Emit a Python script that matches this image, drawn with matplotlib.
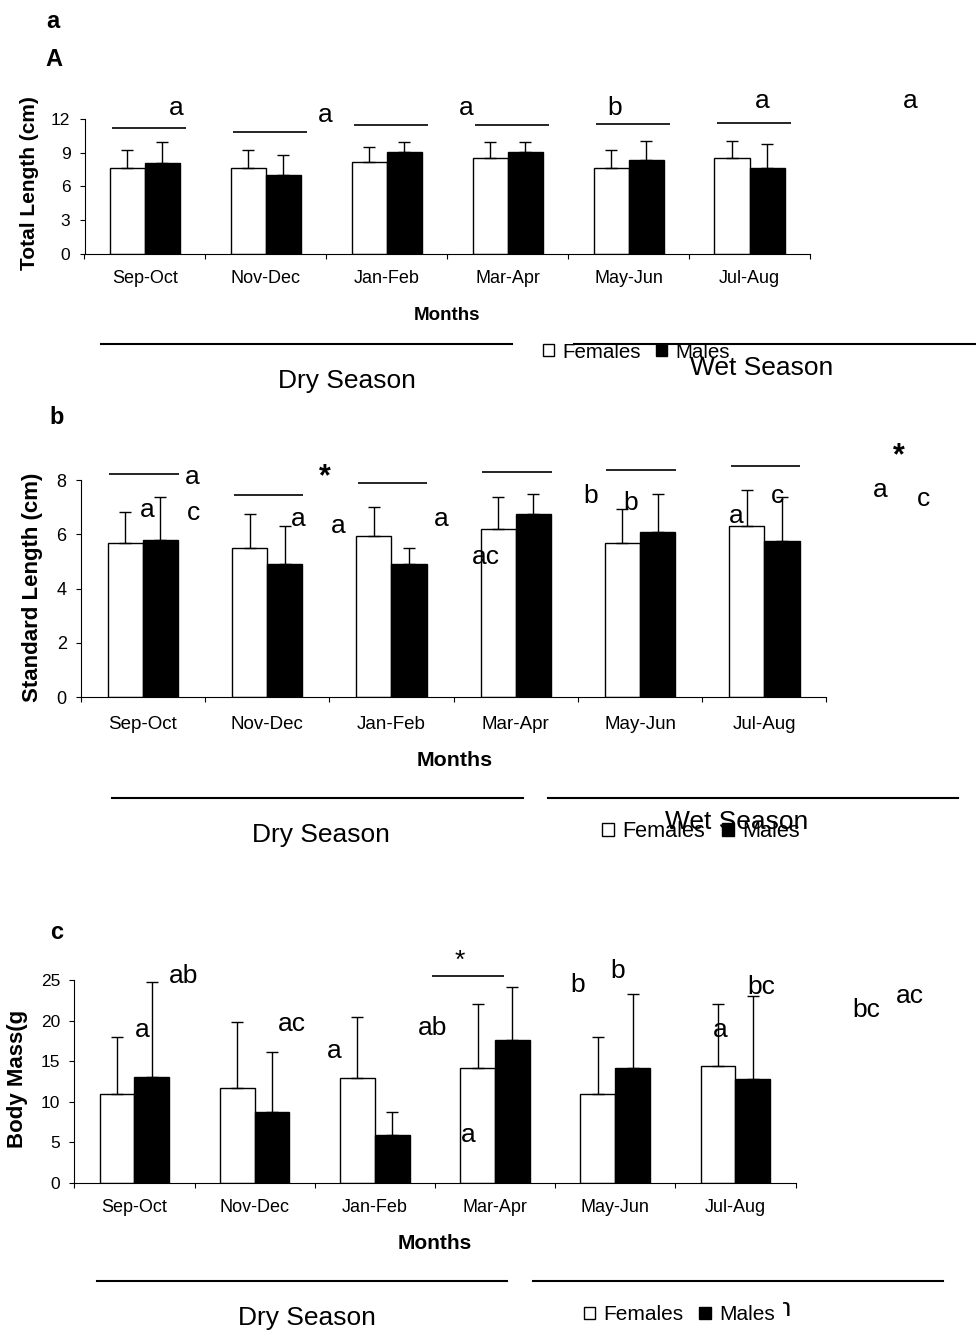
import matplotlib
matplotlib.use('Agg')
import numpy as np
import matplotlib.pyplot as plt
from matplotlib.lines import Line2D

plt.rcParams['font.family'] = ['Liberation Sans', 'DejaVu Sans']

W, H = 976, 1332
fig = plt.figure(figsize=(W / 100, H / 100), dpi=100)


def fx(x):
    return x / W


def fy(y):
    return 1 - y / H


months = ['Sep-Oct', 'Nov-Dec', 'Jan-Feb', 'Mar-Apr', 'May-Jun', 'Jul-Aug']

# A - total length (cm), mean and upper SD
tl_fem = [7.62, 7.62, 8.21, 8.52, 7.62, 8.52]
tl_fem_sd = [1.61, 1.61, 1.32, 1.45, 1.61, 1.57]
tl_mal = [8.07, 7.03, 9.11, 9.11, 8.37, 7.65]
tl_mal_sd = [1.90, 1.75, 0.86, 0.86, 1.72, 2.17]
tl_bracket = [11.2, 10.86, 11.46, 11.46, 11.6, 11.7]

# b - standard length (cm)
sl_fem = [5.68, 5.49, 5.94, 6.19, 5.68, 6.30]
sl_fem_sd = [1.14, 1.26, 1.05, 1.17, 1.25, 1.32]
sl_mal = [5.78, 4.89, 4.89, 6.75, 6.07, 5.75]
sl_mal_sd = [1.58, 1.40, 0.60, 0.74, 1.42, 1.61]
sl_bracket = [8.22, 7.45, 7.88, 8.30, 8.38, 8.50]

# c - body mass (g)
bm_fem = [10.9, 11.72, 12.95, 14.15, 10.9, 14.36]
bm_fem_sd = [7.03, 8.06, 7.45, 7.89, 7.07, 7.68]
bm_mal = [13.0, 8.72, 5.88, 17.64, 14.15, 12.75]
bm_mal_sd = [11.8, 7.36, 2.80, 6.54, 9.12, 10.28]


def panel(box, fem, fem_sd, mal, mal_sd, ymax, ystep, width, ytick_fs, xpad, xtick_fs):
    left, top, right, bottom = box
    ax = fig.add_axes([fx(left), fy(bottom), (right - left) / W, (bottom - top) / H])
    x = np.arange(len(months))
    zero = np.zeros(len(months))
    bf = ax.bar(x - width / 2, fem, width, color='white', edgecolor='black', linewidth=1, label='Females', zorder=2)
    bm = ax.bar(x + width / 2, mal, width, color='black', edgecolor='black', linewidth=1, label='Males', zorder=2)
    ax.errorbar(x - width / 2, fem, yerr=[zero, fem_sd], fmt='none', ecolor='black',
                elinewidth=1, capsize=4.5, capthick=1, zorder=3, clip_on=False)
    ax.errorbar(x + width / 2, mal, yerr=[zero, mal_sd], fmt='none', ecolor='black',
                elinewidth=1, capsize=4.5, capthick=1, zorder=3, clip_on=False)
    ax.set_xlim(-0.5, len(months) - 0.5)
    ax.set_ylim(0, ymax)
    ax.set_yticks(np.arange(0, ymax + 0.1, ystep))
    ax.set_xticks(np.arange(-0.5, len(months), 1))
    ax.set_xticklabels([])
    ax.set_xticks(x, minor=True)
    ax.set_xticklabels(months, minor=True)
    ax.tick_params(axis='x', which='major', direction='out', length=3.6, width=0.8)
    ax.tick_params(axis='x', which='minor', length=0, pad=xpad, labelsize=xtick_fs)
    ax.tick_params(axis='y', direction='out', length=3.6, width=0.8, pad=6.5, labelsize=ytick_fs)
    for s in ['top', 'right']:
        ax.spines[s].set_visible(False)
    for s in ['left', 'bottom']:
        ax.spines[s].set_linewidth(0.8)
    return ax, bf, bm


def hline(x0, x1, y, lw=1.5):
    fig.add_artist(Line2D([fx(x0), fx(x1)], [fy(y), fy(y)], transform=fig.transFigure,
                          color='black', lw=lw))


def letters(items, fs=19, weight='normal'):
    for s, x, y in items:
        fig.text(fx(x), fy(y), s, ha='center', va='baseline', fontsize=fs, fontweight=weight)


def legend(handles, x0, yc, fs, frame=False):
    pad = 0.4 if frame else 0
    fig.legend(handles, ['Females', 'Males'], loc='center left',
               bbox_to_anchor=(fx(x0 - pad * fs * 100 / 72), fy(yc)), ncol=2, fontsize=fs,
               handlelength=0.55, handleheight=0.55, handletextpad=0.4, columnspacing=0.75,
               borderpad=pad, borderaxespad=0, frameon=frame, facecolor='white',
               edgecolor='none', framealpha=1, fancybox=False)


x = np.arange(len(months))

# ---------------- panel A ----------------
fig.text(fx(53), fy(22), 'a', ha='center', va='center', fontsize=17, fontweight='bold')
fig.text(fx(54), fy(59), 'A', ha='center', va='center', fontsize=17, fontweight='bold')
axA, bfA, bmA = panel((84.5, 119.3, 810, 253.7), tl_fem, tl_fem_sd, tl_mal, tl_mal_sd,
                      12, 3, 0.29, 12.5, 12.0, 13)
axA.hlines(tl_bracket, x - 0.27, x + 0.34, color='black', lw=1.2, clip_on=False)
fig.text(fx(30), fy(183), 'Total Length (cm)', rotation=90, ha='center', va='center',
         fontsize=15, fontweight='bold')
fig.text(fx(447), fy(315), 'Months', ha='center', va='center', fontsize=13.5, fontweight='bold')
letters([('a', 176, 115), ('a', 325, 121.7), ('a', 466.5, 115), ('b', 615, 115),
         ('a', 762, 108), ('a', 910, 108)])
hline(101, 512, 343.5)
hline(574, 976, 343.5)
legend([bfA, bmA], 542.6, 352, 14.8)
fig.text(fx(347), fy(381), 'Dry Season', ha='center', va='center', fontsize=19)
fig.text(fx(762), fy(368), 'Wet Season', ha='center', va='center', fontsize=19)

# ---------------- panel b ----------------
fig.text(fx(57), fy(417), 'b', ha='center', va='center', fontsize=17, fontweight='bold')
axB, bfB, bmB = panel((80.7, 480, 826.5, 697.3), sl_fem, sl_fem_sd, sl_mal, sl_mal_sd,
                      8, 2, 0.283, 13, 13.5, 13.5)
axB.hlines(sl_bracket, x - 0.27, x + 0.29, color='black', lw=1.2, clip_on=False)
fig.text(fx(33), fy(587), 'Standard Length (cm)', rotation=90, ha='center', va='center',
         fontsize=16, fontweight='bold')
fig.text(fx(454.5), fy(761), 'Months', ha='center', va='center', fontsize=15.4, fontweight='bold')
letters([('a', 192, 484), ('a', 147.5, 517.3), ('c', 193, 520), ('a', 298, 526),
         ('a', 338, 533.3), ('a', 441, 526), ('ac', 486, 564), ('b', 591, 503.3),
         ('b', 631, 510), ('a', 736, 522.7), ('c', 778, 502.7), ('a', 880.6, 497.3),
         ('c', 923, 506)])
letters([('*', 325, 485), ('*', 899, 464)], fs=22, weight='bold')
hline(112, 523, 798.3)
hline(547.6, 958, 798.3)
legend([bfB, bmB], 602, 831.7, 15.6)
fig.text(fx(321), fy(835), 'Dry Season', ha='center', va='center', fontsize=19)
fig.text(fx(737), fy(821.7), 'Wet Season', ha='center', va='center', fontsize=19)

# ---------------- panel c ----------------
fig.text(fx(56.5), fy(932.5), 'c', ha='center', va='center', fontsize=17, fontweight='bold')
axC, bfC, bmC = panel((74.3, 980, 795.5, 1182.7), bm_fem, bm_fem_sd, bm_mal, bm_mal_sd,
                      25, 5, 0.29, 12.5, 11.5, 13)
axC.hlines(25.5, 3 - 0.52, 3 + 0.075, color='black', lw=1.2, clip_on=False)
fig.text(fx(18), fy(1079), 'Body Mass(g', rotation=90, ha='center', va='center',
         fontsize=16, fontweight='bold')
fig.text(fx(434.5), fy(1243.5), 'Months', ha='center', va='center', fontsize=15, fontweight='bold')
letters([('ab', 184, 983.3), ('a', 142.7, 1036.7), ('ac', 291.5, 1030.7), ('a', 334, 1058.3),
         ('ab', 433, 1035), ('a', 468.5, 1141.7), ('b', 578, 992.3), ('b', 618, 978.3),
         ('bc', 761, 994.3), ('a', 720, 1037.3), ('bc', 866.5, 1016.7), ('ac', 910, 1002.7)])
letters([('*', 459.5, 968)], fs=19)
hline(96.5, 507, 1281)
hline(533, 943, 1281)
fig.text(fx(720), fy(1316), 'Wet Season', ha='center', va='baseline', fontsize=19)
legend([bfC, bmC], 583.7, 1315, 15, frame=True)
fig.text(fx(307), fy(1318), 'Dry Season', ha='center', va='center', fontsize=19)

fig.savefig('out.png', dpi=100)
